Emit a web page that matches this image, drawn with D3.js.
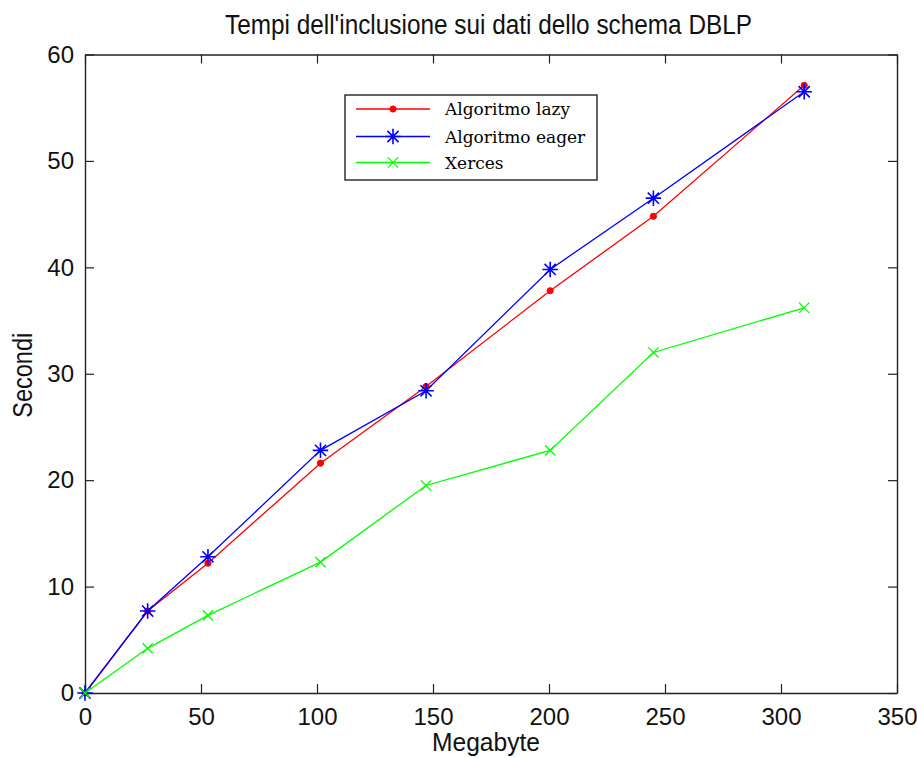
<!DOCTYPE html>
<html>
<head>
<meta charset="utf-8">
<script src="https://cdn.jsdelivr.net/npm/d3@7"></script>
<style>
  html, body { margin: 0; padding: 0; background: #fff; }
  svg { display: block; }
  .tick-label, .axis-title, .chart-title { font-family: "Liberation Sans", Arial, sans-serif; fill: #111; }
  .legend-text { font-family: "DejaVu Serif", "Liberation Serif", serif; fill: #000; }
</style>
</head>
<body>
<svg id="chart" width="917" height="758"></svg>
<script>
// Input size in megabytes and elapsed seconds per algorithm
const megabytes   = [0, 27, 53, 101.5, 147, 200.5, 245, 310];
const lazyTimes   = [0, 7.7, 12.2, 21.6, 28.8, 37.8, 44.8, 57.1];
const eagerTimes  = [0, 7.7, 12.8, 22.8, 28.4, 39.8, 46.5, 56.5];
const xercesTimes = [0, 4.2, 7.3, 12.3, 19.5, 22.8, 32.0, 36.2];

const xTicks = [0, 50, 100, 150, 200, 250, 300, 350];
const yTicks = [0, 10, 20, 30, 40, 50, 60];

const seriesNames = ["Algoritmo lazy", "Algoritmo eager", "Xerces"];
const seriesColors = ["#ff0000", "#0000ff", "#00ff00"];
const seriesMarkers = ["dot", "star", "cross"];

const titleText = "Tempi dell'inclusione sui dati dello schema DBLP";
const xLabel = "Megabyte";
const yLabel = "Secondi";

const series = [lazyTimes, eagerTimes, xercesTimes].map((vals, i) => ({
  name: seriesNames[i],
  color: seriesColors[i],
  marker: seriesMarkers[i],
  points: vals.map((v, j) => ({ x: megabytes[j], y: v }))
}));

const svg = d3.select("#chart");
const plot = { left: 85, right: 897, top: 54.5, bottom: 693 };

const x = d3.scaleLinear().domain([0, 350]).range([plot.left, plot.right]);
const y = d3.scaleLinear().domain([0, 60]).range([plot.bottom, plot.top]);

// 8-armed asterisk (plus + diagonal cross)
const starSymbol = {
  draw(ctx, size) {
    const r = Math.sqrt(size) / 2;
    const d = r * 0.72;
    ctx.moveTo(-r, 0); ctx.lineTo(r, 0);
    ctx.moveTo(0, -r); ctx.lineTo(0, r);
    ctx.moveTo(-d, -d); ctx.lineTo(d, d);
    ctx.moveTo(-d, d); ctx.lineTo(d, -d);
  }
};

function drawMarker(sel, kind, color) {
  if (kind === "dot") {
    sel.append("path")
      .attr("d", d3.symbol().type(d3.symbolCircle).size(30)())
      .attr("fill", color).attr("stroke", color).attr("stroke-width", 1);
  } else if (kind === "star") {
    sel.append("path")
      .attr("d", d3.symbol().type(starSymbol).size(240)())
      .attr("fill", "none").attr("stroke", color).attr("stroke-width", 1.6);
  } else {
    sel.append("path")
      .attr("d", d3.symbol().type(d3.symbolTimes).size(70)())
      .attr("fill", "none").attr("stroke", color).attr("stroke-width", 1.3);
  }
}

// Axes box with inward ticks on all four sides
const axisG = svg.append("g");
const bottomAxis = d3.axisBottom(x).tickValues(xTicks).tickSizeInner(-9).tickSizeOuter(0).tickPadding(15);
const leftAxis = d3.axisLeft(y).tickValues(yTicks).tickSizeInner(-9).tickSizeOuter(0).tickPadding(11);
const topAxis = d3.axisTop(x).tickValues(xTicks).tickSizeInner(-9).tickSizeOuter(0).tickFormat("");
const rightAxis = d3.axisRight(y).tickValues(yTicks).tickSizeInner(-9).tickSizeOuter(0).tickFormat("");

function styleAxis(g) {
  g.select(".domain").attr("stroke", "#222").attr("stroke-width", 1.4);
  g.selectAll(".tick line").attr("stroke", "#222").attr("stroke-width", 1.2);
  g.selectAll(".tick text").attr("class", "tick-label").style("font-size", "24px");
}

axisG.append("g").attr("transform", `translate(0,${plot.bottom})`).call(bottomAxis).call(styleAxis);
axisG.append("g").attr("transform", `translate(${plot.left},0)`).call(leftAxis).call(styleAxis);
axisG.append("g").attr("transform", `translate(0,${plot.top})`).call(topAxis).call(styleAxis);
axisG.append("g").attr("transform", `translate(${plot.right},0)`).call(rightAxis).call(styleAxis);
axisG.selectAll("g").attr("font-family", null).attr("font-size", null);

// Lines and markers
const line = d3.line().x(d => x(d.x)).y(d => y(d.y));
series.forEach(s => {
  svg.append("path")
    .datum(s.points)
    .attr("d", line)
    .attr("fill", "none")
    .attr("stroke", s.color)
    .attr("stroke-width", 1.3);
  const m = svg.append("g");
  s.points.forEach(p => {
    const g = m.append("g").attr("transform", `translate(${x(p.x)},${y(p.y)})`);
    drawMarker(g, s.marker, s.color);
  });
});

// Title and axis labels (condensed lettering)
svg.append("text").attr("class", "chart-title")
  .attr("x", 488.5).attr("y", 34)
  .attr("text-anchor", "middle").style("font-size", "27px")
  .attr("textLength", 527).attr("lengthAdjust", "spacingAndGlyphs")
  .text(titleText);

svg.append("text").attr("class", "axis-title")
  .attr("x", 486).attr("y", 751)
  .attr("text-anchor", "middle").style("font-size", "25px")
  .attr("textLength", 108).attr("lengthAdjust", "spacingAndGlyphs")
  .text(xLabel);

svg.append("text").attr("class", "axis-title")
  .attr("transform", `translate(32,${(plot.top + plot.bottom) / 2 + 1.5}) rotate(-90)`)
  .attr("text-anchor", "middle").style("font-size", "27px")
  .attr("textLength", 85).attr("lengthAdjust", "spacingAndGlyphs")
  .text(yLabel);

// Legend
const legend = { x: 345, y: 95, w: 252, h: 85, rowY: [109, 136.5, 162.5], lineX0: 356, lineX1: 430, textX: 445 };
const lg = svg.append("g");
lg.append("rect")
  .attr("x", legend.x).attr("y", legend.y).attr("width", legend.w).attr("height", legend.h)
  .attr("fill", "#fff").attr("stroke", "#222").attr("stroke-width", 1.4);
series.forEach((s, i) => {
  const ry = legend.rowY[i];
  lg.append("line")
    .attr("x1", legend.lineX0).attr("x2", legend.lineX1).attr("y1", ry).attr("y2", ry)
    .attr("stroke", s.color).attr("stroke-width", 1.3);
  const g = lg.append("g").attr("transform", `translate(${(legend.lineX0 + legend.lineX1) / 2},${ry})`);
  drawMarker(g, s.marker, s.color);
  lg.append("text").attr("class", "legend-text")
    .attr("x", legend.textX).attr("y", ry + 6)
    .style("font-size", "17px")
    .text(s.name);
});
</script>
</body>
</html>
